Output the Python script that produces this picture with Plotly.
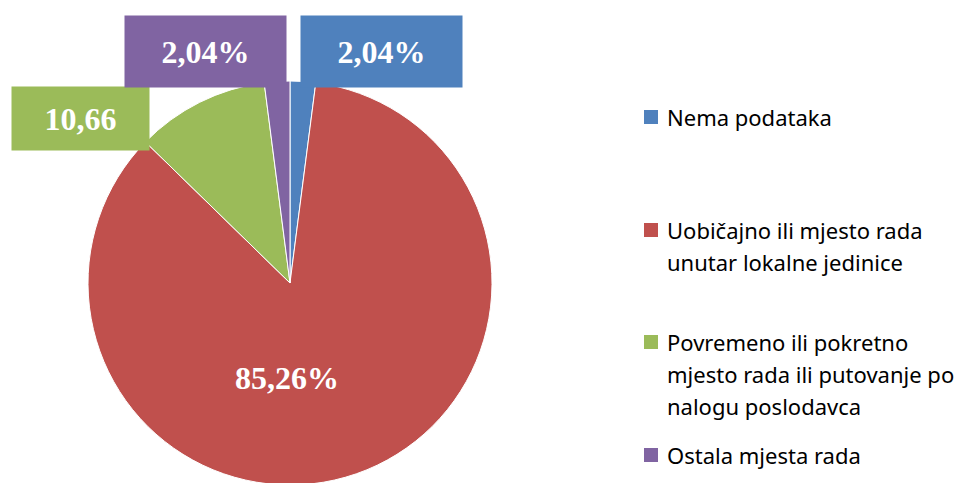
import plotly.graph_objects as go

categories = ["Nema podataka",
              "Uobičajno ili mjesto rada<br>unutar lokalne jedinice",
              "Povremeno ili pokretno<br>mjesto rada ili putovanje po<br>nalogu poslodavca",
              "Ostala mjesta rada"]
values = [2.04, 85.26, 10.66, 2.04]
label_texts = ["2,04%", "85,26%", "10,66", "2,04%"]
colors = ["#4F81BD", "#C0504D", "#9BBB59", "#8064A2"]

W, H = 969, 483
OFF = 8  # page body margin

def px(x):
    return (x - OFF) / W

def py(y):
    return 1 - (y - OFF) / H

fig = go.Figure()
fig.add_trace(go.Pie(
    labels=[c.replace("<br>", " ") for c in categories],
    values=values,
    sort=False,
    direction="clockwise",
    rotation=0,
    textinfo="none",
    hoverinfo="label+percent",
    marker=dict(colors=colors, line=dict(color="white", width=1)),
    domain=dict(x=[px(88), px(492)], y=[py(485), py(81)]),
    showlegend=False,
))

# data labels: (center x, center y, box width, box height, with background)
label_boxes = [
    (381.5, 51.5, 161, 71, True),
    (287, 378, 0, 0, False),
    (80.5, 118.5, 137, 63, True),
    (205.5, 51.5, 161, 71, True),
]
annotations = []
for txt, col, (cx, cy, bw, bh, bg) in zip(label_texts, colors, label_boxes):
    a = dict(x=px(cx), y=py(cy), xref="paper", yref="paper", text="<b>%s</b>" % txt,
             showarrow=False, xanchor="center", yanchor="middle",
             font=dict(family="Liberation Serif", size=32, color="white"))
    if bg:
        a.update(bgcolor=col, width=bw, height=bh, borderpad=0, valign="middle")
    annotations.append(a)

# legend drawn manually
entry_first_line = [117, 230, 342, 455]
line_gap = 32
shapes = []
for cat, col, y0 in zip(categories, colors, entry_first_line):
    shapes.append(dict(type="rect", xref="paper", yref="paper",
                       x0=px(644), x1=px(658), y0=py(y0 - 7), y1=py(y0 + 7),
                       fillcolor=col, line=dict(width=0)))
    for k, line in enumerate(cat.split("<br>")):
        annotations.append(dict(x=px(665), y=py(y0 + k * line_gap), xref="paper", yref="paper",
                                text=line, showarrow=False, xanchor="left", yanchor="middle",
                                font=dict(family="Noto Sans", size=22, color="#000000")))

fig.update_layout(
    width=W, height=H,
    margin=dict(l=0, r=0, t=0, b=0),
    paper_bgcolor="white", plot_bgcolor="white",
    annotations=annotations, shapes=shapes,
    showlegend=False,
)
fig.write_html("out.html")
